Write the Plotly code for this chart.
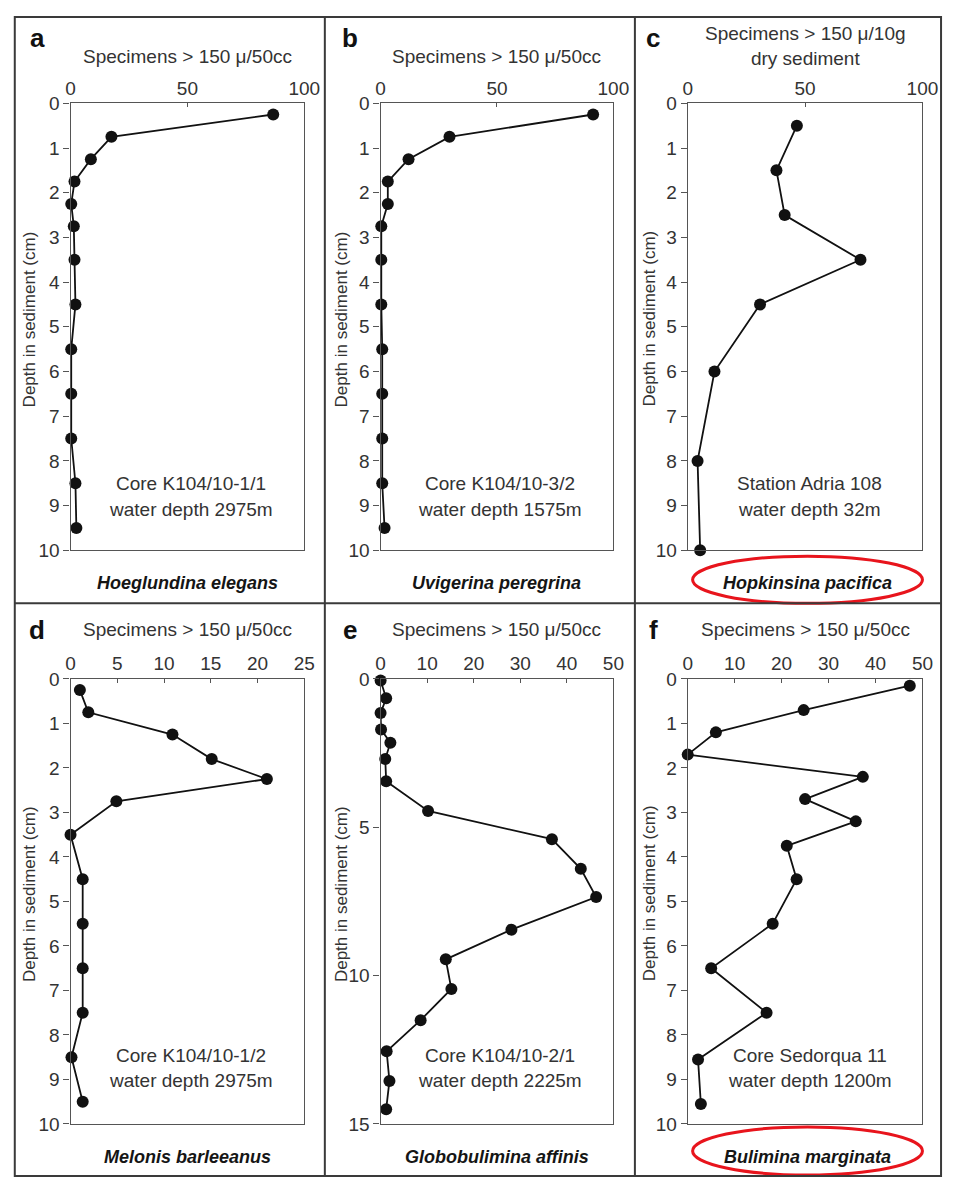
import plotly.graph_objects as go

W, H = 959, 1189

# ---------------- data ----------------
a_depth = [0.25, 0.75, 1.25, 1.75, 2.25, 2.75, 3.5, 4.5, 5.5, 6.5, 7.5, 8.5, 9.5]
a_count = [86.7, 17.5, 8.7, 1.7, 0.3, 1.4, 1.7, 2.1, 0.3, 0.3, 0.3, 2.1, 2.5]

b_depth = [0.25, 0.75, 1.25, 1.75, 2.25, 2.75, 3.5, 4.5, 5.5, 6.5, 7.5, 8.5, 9.5]
b_count = [91.3, 29.6, 12.0, 3.1, 3.1, 0.3, 0.3, 0.3, 0.7, 0.7, 0.7, 0.7, 1.7]

c_depth = [0.5, 1.5, 2.5, 3.5, 4.5, 6.0, 8.0, 10.0]
c_count = [46.5, 37.8, 41.3, 73.6, 30.8, 11.4, 4.2, 5.3]

d_depth = [0.25, 0.75, 1.25, 1.8, 2.25, 2.75, 3.5, 4.5, 5.5, 6.5, 7.5, 8.5, 9.5]
d_count = [1.0, 1.9, 10.9, 15.1, 21.0, 4.9, 0.0, 1.3, 1.3, 1.3, 1.3, 0.1, 1.3]

e_depth = [0.05, 0.65, 1.15, 1.7, 2.15, 2.7, 3.45, 4.45, 5.4, 6.4, 7.35, 8.45,
           9.45, 10.45, 11.5, 12.55, 13.55, 14.5]
e_count = [0.0, 1.2, 0.0, 0.1, 2.1, 1.0, 1.2, 10.2, 36.8, 43.0, 46.3, 28.1,
           14.0, 15.2, 8.6, 1.3, 1.9, 1.2]

f_depth = [0.15, 0.7, 1.2, 1.7, 2.2, 2.7, 3.2, 3.75, 4.5, 5.5, 6.5, 7.5, 8.55, 9.55]
f_count = [47.3, 24.7, 6.0, 0.0, 37.3, 25.0, 35.8, 21.1, 23.2, 18.1, 5.0, 16.8, 2.2, 2.8]

letters = ["a", "b", "c", "d", "e", "f"]
x_titles = ["Specimens > 150 \u03bc/50cc", "Specimens > 150 \u03bc/50cc",
            "Specimens > 150 \u03bc/10g<br>dry sediment",
            "Specimens > 150 \u03bc/50cc", "Specimens > 150 \u03bc/50cc",
            "Specimens > 150 \u03bc/50cc"]
y_title = "Depth in sediment (cm)"
notes = [("Core K104/10-1/1", "water depth 2975m"),
         ("Core K104/10-3/2", "water depth 1575m"),
         ("Station Adria 108", "water depth 32m"),
         ("Core K104/10-1/2", "water depth 2975m"),
         ("Core K104/10-2/1", "water depth 2225m"),
         ("Core Sedorqua 11", "water depth 1200m")]
species = ["Hoeglundina elegans", "Uvigerina peregrina", "Hopkinsina pacifica",
           "Melonis barleeanus", "Globobulimina affinis", "Bulimina marginata"]
x_ranges = [[0, 100], [0, 100], [0, 100], [0, 25], [0, 50], [0, 50]]
x_dticks = [50, 50, 50, 5, 10, 10]
y_ranges = [[10, 0], [10, 0], [10, 0], [10, 0], [15, 0], [10, 0]]
y_dticks = [1, 1, 1, 1, 5, 1]
highlighted = [False, False, True, False, False, True]

series = [(a_count, a_depth), (b_count, b_depth), (c_count, c_depth),
          (d_count, d_depth), (e_count, e_depth), (f_count, f_depth)]

# ---------------- layout geometry (pixels) ----------------
col_x = [(67, 306), (384, 622), (698, 938)]
row_y = [(95, 550), (681, 1134)]
FONT = "Liberation Sans, Arial, Helvetica, sans-serif"
TXT = "#333333"


def px(x):
    return x / W


def py(y):
    return 1 - y / H


fig = go.Figure()
annotations = []
shapes = []

for i in range(6):
    r, c = divmod(i, 3)
    x0, x1 = col_x[c]
    y0, y1 = row_y[r]
    ax = "" if i == 0 else str(i + 1)
    xs, ys = series[i]
    fig.add_trace(go.Scatter(
        x=xs, y=ys, mode="lines+markers",
        line=dict(color="#111111", width=1.8),
        marker=dict(color="#111111", size=12),
        cliponaxis=False, showlegend=False,
        xaxis="x" + ax, yaxis="y" + ax,
    ))
    common = dict(showgrid=False, zeroline=False, showline=True, mirror=True,
                  linecolor="#555555", linewidth=1.2,
                  tickfont=dict(family=FONT, size=19, color=TXT),
                  tickcolor="#555555", fixedrange=True)
    fig.update_layout(**{
        "xaxis" + ax: dict(domain=[px(x0), px(x1)], range=x_ranges[i],
                           dtick=x_dticks[i], side="top", ticks="inside",
                           ticklen=4, anchor="y" + ax, **common),
        "yaxis" + ax: dict(domain=[py(y1), py(y0)], range=y_ranges[i],
                           dtick=y_dticks[i], ticks="outside", ticklen=6,
                           anchor="x" + ax, **common),
    })

    cx = (x0 + x1) / 2
    # panel letter
    lx = [33, 353, 663][c]
    annotations.append(dict(x=px(lx), y=py([29, 631][r]), xref="paper", yref="paper",
                            text="<b>%s</b>" % letters[i], showarrow=False,
                            font=dict(family=FONT, size=26, color="#111111"),
                            xanchor="center", yanchor="middle"))
    # x title
    ty = [47, 631][r] if i != 2 else 37
    annotations.append(dict(x=px(cx), y=py(ty), xref="paper", yref="paper",
                            text=x_titles[i], showarrow=False,
                            font=dict(family=FONT, size=19, color=TXT),
                            xanchor="center", yanchor="middle",
                            align="center"))
    # y title
    yx = [25, 344, 659][c]
    annotations.append(dict(x=px(yx), y=py((y0 + y1) / 2 - 8), xref="paper", yref="paper",
                            text=y_title, showarrow=False, textangle=-90,
                            font=dict(family=FONT, size=17, color=TXT),
                            xanchor="center", yanchor="middle"))
    # notes
    nx = [190, 506, 823][c]
    n1, n2 = [(482, 508), (1064, 1090)][r]
    annotations.append(dict(x=px(nx), y=py(n1), xref="paper", yref="paper",
                            text=notes[i][0], showarrow=False,
                            font=dict(family=FONT, size=19, color=TXT),
                            xanchor="center", yanchor="middle"))
    annotations.append(dict(x=px(nx), y=py(n2), xref="paper", yref="paper",
                            text=notes[i][1], showarrow=False,
                            font=dict(family=FONT, size=19, color=TXT),
                            xanchor="center", yanchor="middle"))
    # species name
    sx = [187, 503, 820][c]
    sy = [583, 1168][r]
    annotations.append(dict(x=px(sx), y=py(sy), xref="paper", yref="paper",
                            text="<b><i>%s</i></b>" % species[i], showarrow=False,
                            font=dict(family=FONT, size=18, color="#151515"),
                            xanchor="center", yanchor="middle"))
    if highlighted[i]:
        ey0, ey1 = [(556, 604), (1137, 1186)][r]
        shapes.append(dict(type="circle", xref="paper", yref="paper",
                           x0=px(703), x1=px(938), y0=py(ey1), y1=py(ey0),
                           line=dict(color="#e8141c", width=3)))

# frame and cell dividers
LC = "#3a3a3a"
shapes.append(dict(type="rect", xref="paper", yref="paper",
                   x0=px(10), x1=px(957), y0=py(1187), y1=py(7),
                   line=dict(color=LC, width=2)))
for vx in (327, 644):
    shapes.append(dict(type="line", xref="paper", yref="paper",
                       x0=px(vx), x1=px(vx), y0=py(1187), y1=py(7),
                       line=dict(color=LC, width=2)))
shapes.append(dict(type="line", xref="paper", yref="paper",
                   x0=px(10), x1=px(957), y0=py(604), y1=py(604),
                   line=dict(color=LC, width=2)))

fig.update_layout(width=W, height=H, margin=dict(l=0, r=0, t=0, b=0),
                  paper_bgcolor="white", plot_bgcolor="white",
                  annotations=annotations, shapes=shapes,
                  font=dict(family=FONT, color=TXT))

fig.write_html("out.html")
